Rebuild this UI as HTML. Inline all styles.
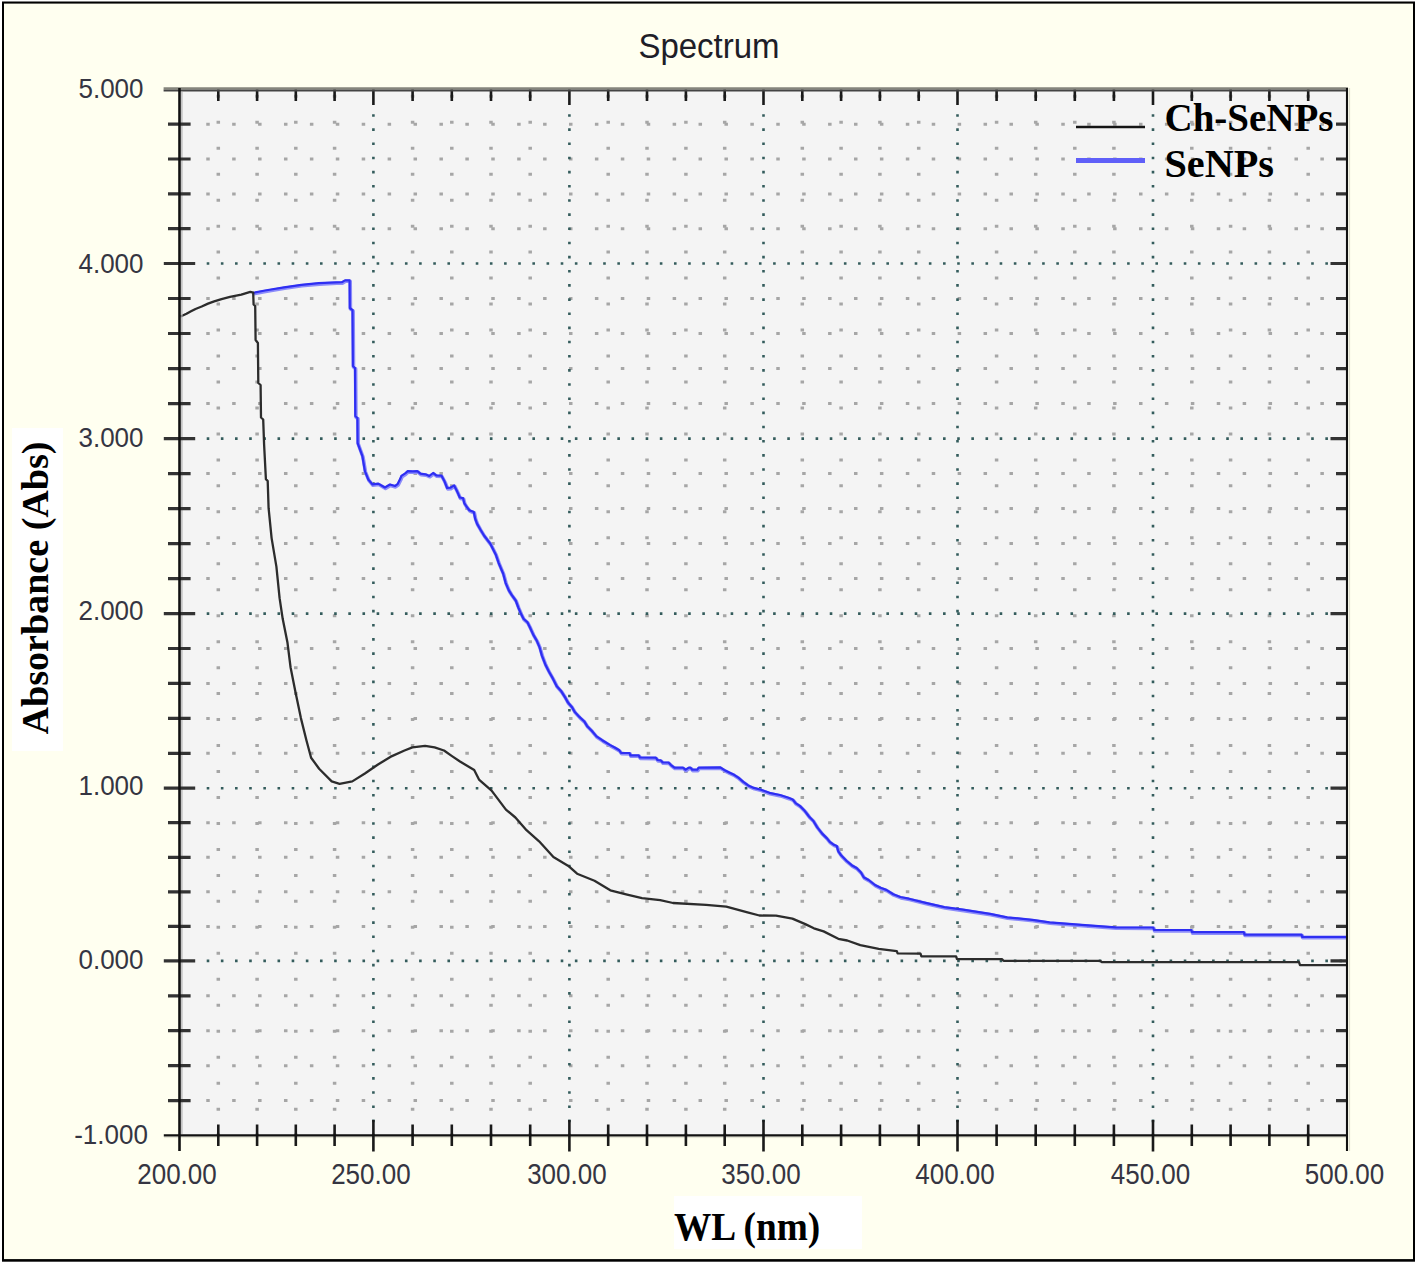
<!DOCTYPE html>
<html><head><meta charset="utf-8"><style>
html,body{margin:0;padding:0;background:#fff;width:1416px;height:1264px;overflow:hidden}
svg{display:block}
.tk{font-family:"Liberation Sans",sans-serif;font-size:26px;fill:#353542}
</style></head><body>
<svg width="1416" height="1264" viewBox="0 0 1416 1264">
<rect x="2" y="1.5" width="1413" height="1260.2" fill="#000"/>
<rect x="4" y="3.6" width="1409" height="1255.5" fill="#FFFFF0"/>
<rect x="179.5" y="89.5" width="1167.5" height="1045.9" fill="#F4F4F4"/>
<path d="M206.25 1100.6H1347.0M206.25 1065.7H1347.0M206.25 1030.7H1347.0M206.25 995.8H1347.0M206.25 926.4H1347.0M206.25 891.8H1347.0M206.25 857.3H1347.0M206.25 822.7H1347.0M206.25 753.3H1347.0M206.25 718.4H1347.0M206.25 683.4H1347.0M206.25 648.5H1347.0M206.25 578.6H1347.0M206.25 543.6H1347.0M206.25 508.6H1347.0M206.25 473.6H1347.0M206.25 403.6H1347.0M206.25 368.6H1347.0M206.25 333.5H1347.0M206.25 298.5H1347.0M206.25 228.7H1347.0M206.25 193.9H1347.0M206.25 159.0H1347.0M206.25 124.2H1347.0" stroke="#a6a6a6" stroke-width="3" stroke-dasharray="3.5 22.41"/>
<path d="M218.3 94.8V1135.4M257.1 94.8V1135.4M295.8 94.8V1135.4M334.6 94.8V1135.4M412.6 94.8V1135.4M451.8 94.8V1135.4M491.0 94.8V1135.4M530.2 94.8V1135.4M608.2 94.8V1135.4M647.0 94.8V1135.4M685.9 94.8V1135.4M724.7 94.8V1135.4M802.3 94.8V1135.4M841.1 94.8V1135.4M879.9 94.8V1135.4M918.7 94.8V1135.4M996.6 94.8V1135.4M1035.7 94.8V1135.4M1074.8 94.8V1135.4M1113.9 94.8V1135.4M1191.8 94.8V1135.4M1230.6 94.8V1135.4M1269.4 94.8V1135.4M1308.2 94.8V1135.4" stroke="#a6a6a6" stroke-width="3.5" stroke-dasharray="3 22.97"/>
<path d="M206.7 960.9H1347.0M206.7 788.2H1347.0M206.7 613.6H1347.0M206.7 438.6H1347.0M206.7 263.5H1347.0" stroke="#345c5c" stroke-width="2.6" stroke-dasharray="2.6 11.56"/>
<path d="M373.4 114.2V1135.4M569.4 114.2V1135.4M763.5 114.2V1135.4M957.5 114.2V1135.4M1153.0 114.2V1135.4" stroke="#345c5c" stroke-width="2.6" stroke-dasharray="2.6 11.56"/>
<polyline points="252.3,293.0 265.0,290.5 284.0,287.3 301.3,284.8 318.7,283.2 336.0,282.4 341.8,282.2 345.0,280.4 349.6,280.4 349.8,308.0 352.5,310.0 352.9,366.0 355.0,368.0 355.3,416.0 357.4,418.0 357.6,443.0 362.4,456.2 364.9,471.2 368.3,479.5 372.4,484.4 378.2,483.6 384.9,487.5 389.9,484.5 395.0,486.0 397.5,484.2 400.1,479.1 401.4,475.9 405.2,473.4 407.7,471.1 412.8,471.4 417.3,471.1 420.4,473.7 425.5,474.3 429.3,475.9 433.1,473.0 436.3,475.3 441.4,475.6 444.6,481.6 447.1,488.0 450.3,487.7 454.1,485.4 456.7,490.5 457.9,493.1 459.8,497.5 463.0,498.1 464.3,503.2 466.8,507.0 469.4,510.2 473.8,512.1 475.1,518.5 477.0,523.6 480.2,529.3 484.0,535.5 490.4,543.9 495.7,554.4 498.7,563.1 503.1,573.5 505.7,583.1 508.7,590.1 511.3,594.4 515.7,600.5 518.3,607.5 520.9,613.6 523.5,618.8 527.4,622.3 530.0,627.5 533.1,634.4 536.6,640.4 539.5,647.1 541.9,655.6 545.2,664.2 549.0,671.8 552.8,678.4 556.6,686.0 561.3,691.3 565.1,697.4 568.0,702.6 571.8,706.9 574.6,711.7 579.4,716.9 584.1,721.2 587.0,725.9 591.7,730.7 596.5,736.4 602.2,740.2 609.8,744.9 615.1,747.7 619.3,750.3 621.0,752.8 629.5,753.0 630.3,755.3 638.8,755.3 639.7,757.5 655.8,757.7 657.5,760.0 660.8,760.4 662.5,762.3 668.5,762.5 671.0,765.1 674.4,767.6 682.9,767.6 685.4,769.7 688.8,767.6 690.5,767.6 692.2,769.7 697.3,769.7 698.6,767.6 720.0,767.3 724.2,769.9 729.2,772.4 734.1,774.8 738.4,777.7 743.3,781.9 748.2,785.4 753.9,787.9 761.0,789.7 769.4,792.8 780.0,795.0 788.5,797.8 792.7,799.5 795.6,803.1 799.8,805.9 804.7,810.8 809.0,816.5 813.2,820.7 817.1,827.1 822.0,833.4 827.0,838.4 829.8,841.9 833.3,844.4 836.8,846.1 838.2,851.1 841.1,855.3 846.7,861.0 851.7,865.2 856.6,868.0 860.8,872.3 863.7,877.2 868.6,880.0 875.0,885.0 880.6,887.8 886.3,889.9 893.3,894.2 900.4,897.0 908.9,898.7 925.8,902.9 944.4,907.1 963.1,909.7 990.2,913.9 1007.1,917.3 1032.5,919.8 1049.5,922.4 1081.7,924.9 1115.6,927.3 1153.2,927.5 1154.0,930.0 1191.3,930.0 1192.0,932.2 1243.8,932.2 1244.5,934.6 1301.5,934.6 1302.0,936.8 1347.0,936.8" transform="translate(0.6 0.9)" fill="none" stroke="#8c8cfa" stroke-width="3.6" stroke-linejoin="round"/>
<polyline points="252.3,293.0 265.0,290.5 284.0,287.3 301.3,284.8 318.7,283.2 336.0,282.4 341.8,282.2 345.0,280.4 349.6,280.4 349.8,308.0 352.5,310.0 352.9,366.0 355.0,368.0 355.3,416.0 357.4,418.0 357.6,443.0 362.4,456.2 364.9,471.2 368.3,479.5 372.4,484.4 378.2,483.6 384.9,487.5 389.9,484.5 395.0,486.0 397.5,484.2 400.1,479.1 401.4,475.9 405.2,473.4 407.7,471.1 412.8,471.4 417.3,471.1 420.4,473.7 425.5,474.3 429.3,475.9 433.1,473.0 436.3,475.3 441.4,475.6 444.6,481.6 447.1,488.0 450.3,487.7 454.1,485.4 456.7,490.5 457.9,493.1 459.8,497.5 463.0,498.1 464.3,503.2 466.8,507.0 469.4,510.2 473.8,512.1 475.1,518.5 477.0,523.6 480.2,529.3 484.0,535.5 490.4,543.9 495.7,554.4 498.7,563.1 503.1,573.5 505.7,583.1 508.7,590.1 511.3,594.4 515.7,600.5 518.3,607.5 520.9,613.6 523.5,618.8 527.4,622.3 530.0,627.5 533.1,634.4 536.6,640.4 539.5,647.1 541.9,655.6 545.2,664.2 549.0,671.8 552.8,678.4 556.6,686.0 561.3,691.3 565.1,697.4 568.0,702.6 571.8,706.9 574.6,711.7 579.4,716.9 584.1,721.2 587.0,725.9 591.7,730.7 596.5,736.4 602.2,740.2 609.8,744.9 615.1,747.7 619.3,750.3 621.0,752.8 629.5,753.0 630.3,755.3 638.8,755.3 639.7,757.5 655.8,757.7 657.5,760.0 660.8,760.4 662.5,762.3 668.5,762.5 671.0,765.1 674.4,767.6 682.9,767.6 685.4,769.7 688.8,767.6 690.5,767.6 692.2,769.7 697.3,769.7 698.6,767.6 720.0,767.3 724.2,769.9 729.2,772.4 734.1,774.8 738.4,777.7 743.3,781.9 748.2,785.4 753.9,787.9 761.0,789.7 769.4,792.8 780.0,795.0 788.5,797.8 792.7,799.5 795.6,803.1 799.8,805.9 804.7,810.8 809.0,816.5 813.2,820.7 817.1,827.1 822.0,833.4 827.0,838.4 829.8,841.9 833.3,844.4 836.8,846.1 838.2,851.1 841.1,855.3 846.7,861.0 851.7,865.2 856.6,868.0 860.8,872.3 863.7,877.2 868.6,880.0 875.0,885.0 880.6,887.8 886.3,889.9 893.3,894.2 900.4,897.0 908.9,898.7 925.8,902.9 944.4,907.1 963.1,909.7 990.2,913.9 1007.1,917.3 1032.5,919.8 1049.5,922.4 1081.7,924.9 1115.6,927.3 1153.2,927.5 1154.0,930.0 1191.3,930.0 1192.0,932.2 1243.8,932.2 1244.5,934.6 1301.5,934.6 1302.0,936.8 1347.0,936.8" fill="none" stroke="#2e2ef2" stroke-width="2.2" stroke-linejoin="round"/>
<polyline points="180.5,316.5 186.5,313.8 191.0,311.3 195.5,309.0 201.7,306.5 208.0,303.6 214.2,301.4 221.5,299.1 230.0,296.9 241.3,294.6 250.3,291.9 253.2,292.6 253.6,304.5 255.2,306.0 255.6,340.0 257.9,343.0 258.3,383.0 260.6,385.0 261.0,417.5 263.2,419.5 264.1,444.5 265.9,479.1 267.7,481.0 268.6,508.2 271.6,538.1 276.4,566.6 279.6,598.2 282.7,618.8 287.4,642.2 290.6,667.5 295.3,691.2 300.9,718.1 306.4,740.3 311.1,757.7 319.1,768.7 331.7,781.4 339.6,783.8 352.3,781.4 364.9,773.5 377.6,764.8 390.3,756.9 404.5,750.5 412.4,747.4 425.1,745.8 434.6,747.4 444.0,750.5 452.0,756.1 460.0,761.5 474.2,770.1 479.0,779.6 491.6,790.6 505.9,809.6 515.4,817.5 526.5,830.2 539.1,841.3 553.4,857.1 569.2,866.6 577.1,873.7 594.5,880.8 610.3,890.3 626.1,894.3 642.0,898.2 660.2,900.2 673.0,903.0 706.1,904.8 726.3,906.6 747.5,912.3 759.4,915.5 776.0,915.6 792.4,918.6 805.3,924.1 813.9,928.3 823.6,931.4 838.3,938.8 847.2,940.5 860.3,945.2 878.7,948.9 896.8,951.2 897.6,953.4 920.5,953.7 921.4,956.3 956.1,956.3 957.0,959.1 1001.9,959.1 1003.6,960.8 1100.2,960.8 1101.9,962.2 1299.0,962.2 1300.0,965.1 1347.0,965.1" fill="none" stroke="#2c2c2c" stroke-width="2.3" stroke-linejoin="round"/>
<path d="M1349.6 88V1151" stroke="#dadac8" stroke-width="1"/>
<path d="M164 1137.6H1348" stroke="#e4e4d4" stroke-width="1"/>
<path d="M181.9 92V1134" stroke="#b0b0b0" stroke-width="1.2"/>
<path d="M168 1100.6H190.6M1336 1100.6H1347.0M168 1065.7H190.6M1336 1065.7H1347.0M168 1030.7H190.6M1336 1030.7H1347.0M168 995.8H190.6M1336 995.8H1347.0M163.8 960.9H195.2M1330.5 960.9H1347.0M168 926.4H190.6M1336 926.4H1347.0M168 891.8H190.6M1336 891.8H1347.0M168 857.3H190.6M1336 857.3H1347.0M168 822.7H190.6M1336 822.7H1347.0M163.8 788.2H195.2M1330.5 788.2H1347.0M168 753.3H190.6M1336 753.3H1347.0M168 718.4H190.6M1336 718.4H1347.0M168 683.4H190.6M1336 683.4H1347.0M168 648.5H190.6M1336 648.5H1347.0M163.8 613.6H195.2M1330.5 613.6H1347.0M168 578.6H190.6M1336 578.6H1347.0M168 543.6H190.6M1336 543.6H1347.0M168 508.6H190.6M1336 508.6H1347.0M168 473.6H190.6M1336 473.6H1347.0M163.8 438.6H195.2M1330.5 438.6H1347.0M168 403.6H190.6M1336 403.6H1347.0M168 368.6H190.6M1336 368.6H1347.0M168 333.5H190.6M1336 333.5H1347.0M168 298.5H190.6M1336 298.5H1347.0M163.8 263.5H195.2M1330.5 263.5H1347.0M168 228.7H190.6M1336 228.7H1347.0M168 193.9H190.6M1336 193.9H1347.0M168 159.0H190.6M1336 159.0H1347.0M168 124.2H190.6M1336 124.2H1347.0" stroke="#333" stroke-width="3.2"/>
<path d="M218.3 1124.5V1146M218.3 89.5V101M257.1 1124.5V1146M257.1 89.5V101M295.8 1124.5V1146M295.8 89.5V101M334.6 1124.5V1146M334.6 89.5V101M373.4 1120V1151.4M373.4 89.5V105M412.6 1124.5V1146M412.6 89.5V101M451.8 1124.5V1146M451.8 89.5V101M491.0 1124.5V1146M491.0 89.5V101M530.2 1124.5V1146M530.2 89.5V101M569.4 1120V1151.4M569.4 89.5V105M608.2 1124.5V1146M608.2 89.5V101M647.0 1124.5V1146M647.0 89.5V101M685.9 1124.5V1146M685.9 89.5V101M724.7 1124.5V1146M724.7 89.5V101M763.5 1120V1151.4M763.5 89.5V105M802.3 1124.5V1146M802.3 89.5V101M841.1 1124.5V1146M841.1 89.5V101M879.9 1124.5V1146M879.9 89.5V101M918.7 1124.5V1146M918.7 89.5V101M957.5 1120V1151.4M957.5 89.5V105M996.6 1124.5V1146M996.6 89.5V101M1035.7 1124.5V1146M1035.7 89.5V101M1074.8 1124.5V1146M1074.8 89.5V101M1113.9 1124.5V1146M1113.9 89.5V101M1153.0 1120V1151.4M1153.0 89.5V105M1191.8 1124.5V1146M1191.8 89.5V101M1230.6 1124.5V1146M1230.6 89.5V101M1269.4 1124.5V1146M1269.4 89.5V101M1308.2 1124.5V1146M1308.2 89.5V101" stroke="#1a1a1a" stroke-width="2.6"/>
<path d="M163.6 88.3H1348" stroke="#85857c" stroke-width="2.2"/>
<path d="M163.6 90.6H1348" stroke="#444" stroke-width="2"/>
<path d="M179.5 88V1151" stroke="#111" stroke-width="2.6"/>
<path d="M163.8 1135.4H1348" stroke="#111" stroke-width="2.2"/>
<path d="M1347.0 88V1151" stroke="#111" stroke-width="2.1"/>
<path d="M1076 127H1145" stroke="#151515" stroke-width="2.6"/>
<path d="M1076 160.5H1145" stroke="#5f5ff8" stroke-width="5"/>
<text x="1164.5" y="130.5" font-family="Liberation Serif" font-weight="bold" font-size="39.4" textLength="169" lengthAdjust="spacingAndGlyphs" fill="#000">Ch-SeNPs</text>
<text x="1164.5" y="177" font-family="Liberation Serif" font-weight="bold" font-size="39.4" textLength="109.5" lengthAdjust="spacingAndGlyphs" fill="#000">SeNPs</text>
<text transform="translate(111 1143.9) scale(1 1.08)" text-anchor="middle" class="tk">-1.000</text>
<text transform="translate(111 969.3) scale(1 1.08)" text-anchor="middle" class="tk">0.000</text>
<text transform="translate(111 795.2) scale(1 1.08)" text-anchor="middle" class="tk">1.000</text>
<text transform="translate(111 620.3) scale(1 1.08)" text-anchor="middle" class="tk">2.000</text>
<text transform="translate(111 447.2) scale(1 1.08)" text-anchor="middle" class="tk">3.000</text>
<text transform="translate(111 272.9) scale(1 1.08)" text-anchor="middle" class="tk">4.000</text>
<text transform="translate(111 97.7) scale(1 1.08)" text-anchor="middle" class="tk">5.000</text>
<text transform="translate(177.0 1184.2) scale(1 1.1)" text-anchor="middle" class="tk">200.00</text>
<text transform="translate(370.9 1184.2) scale(1 1.1)" text-anchor="middle" class="tk">250.00</text>
<text transform="translate(566.9 1184.2) scale(1 1.1)" text-anchor="middle" class="tk">300.00</text>
<text transform="translate(761.0 1184.2) scale(1 1.1)" text-anchor="middle" class="tk">350.00</text>
<text transform="translate(955.0 1184.2) scale(1 1.1)" text-anchor="middle" class="tk">400.00</text>
<text transform="translate(1150.5 1184.2) scale(1 1.1)" text-anchor="middle" class="tk">450.00</text>
<text transform="translate(1344.5 1184.2) scale(1 1.1)" text-anchor="middle" class="tk">500.00</text>
<text transform="translate(709 57.8) scale(1 1.06)" text-anchor="middle" font-family="Liberation Sans" font-size="33" fill="#1e1e28">Spectrum</text>
<rect x="12" y="428" width="51" height="323" fill="#fff"/>
<text transform="translate(48.4 588) rotate(-90)" text-anchor="middle" font-family="Liberation Serif" font-weight="bold" font-size="37.7" textLength="293" lengthAdjust="spacingAndGlyphs" fill="#000">Absorbance (Abs)</text>
<rect x="674" y="1196" width="188" height="53" fill="#fff"/>
<text transform="translate(674 1240) scale(1 1.04)" font-family="Liberation Serif" font-weight="bold" font-size="38" textLength="146.2" lengthAdjust="spacingAndGlyphs" fill="#000">WL (nm)</text>
</svg>
</body></html>
